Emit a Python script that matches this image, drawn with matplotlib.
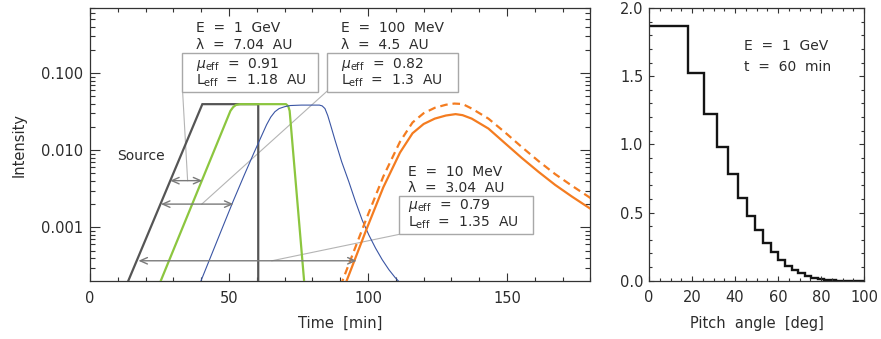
import matplotlib
matplotlib.use('Agg')
import matplotlib.pyplot as plt
from matplotlib.patches import Rectangle
from matplotlib.ticker import MultipleLocator, LogLocator, NullFormatter, FormatStrFormatter

plt.rcParams['font.family'] = ['DejaVu Sans']
plt.rcParams['font.size'] = 10.5
plt.rcParams['mathtext.fontset'] = 'dejavusans'

# ---------------- data: left panel (time profiles) ----------------
source_t = [13.0, 40.4, 60.5, 60.5]
source_I = [1.74e-4, 0.0396, 0.0396, 1.0e-4]

gev_t = [24.7, 50.5, 51.5, 52.5, 54.0, 70.5, 71.3, 71.8, 77.2]
gev_I = [1.74e-4, 0.0324, 0.0363, 0.0387, 0.0396, 0.0396, 0.0372, 0.0324, 1.66e-4]

mev100_t = [39.5, 43.2, 47.0, 51.5, 55.5, 59.0, 61.5, 63.5, 65.0, 66.5, 68.0, 70.0, 72.0, 76.0,
            82.5, 83.5, 84.5, 85.5, 86.5, 88.1, 90.5, 93.1, 95.5, 97.9, 100.3, 102.7, 105.1,
            107.5, 109.7, 111.5]
mev100_I = [1.86e-4, 3.98e-4, 8.71e-4, 2.19e-3, 4.79e-3, 9.33e-3, 0.0148, 0.0214, 0.0269,
            0.0316, 0.0347, 0.0367, 0.0380, 0.0385, 0.0385, 0.0376, 0.0347, 0.0282, 0.0214,
            0.0136, 7.11e-3, 3.89e-3, 2.15e-3, 1.24e-3, 7.94e-4, 5.37e-4, 3.80e-4, 2.82e-4,
            2.24e-4, 1.91e-4]

mev10_t = [91.6, 99.5, 105.5, 111.5, 116.0, 120.0, 124.0, 128.0, 131.5, 134.0, 137.3, 143.3,
           149.3, 155.3, 161.3, 167.3, 173.3, 180.0, 181.0]
mev10_I = [1.74e-4, 9.55e-4, 3.31e-3, 9.33e-3, 0.0166, 0.0219, 0.0257, 0.0282, 0.0294, 0.0285,
           0.0257, 0.0191, 0.0123, 7.94e-3, 5.25e-3, 3.55e-3, 2.51e-3, 1.74e-3, 1.70e-3]

mev10_dash_t = [90.1, 99.5, 105.5, 111.5, 116.0, 120.0, 124.0, 128.0, 131.0, 134.0, 137.3,
                143.3, 149.3, 155.3, 161.3, 167.3, 173.3, 180.0, 181.0]
mev10_dash_I = [1.74e-4, 1.32e-3, 4.57e-3, 0.0129, 0.0229, 0.0302, 0.0355, 0.0389, 0.0403,
                0.0398, 0.0347, 0.0257, 0.0170, 0.0110, 7.24e-3, 4.90e-3, 3.47e-3, 2.40e-3,
                2.35e-3]

left_xticks = [0, 50, 100, 150]
left_yticks = [1e-3, 1e-2, 1e-1]
left_yticklabels = ['0.001', '0.010', '0.100']

# ---------------- data: right panel (pitch-angle distribution) ----------------
pitch_edges = [0, 18.0, 25.7, 31.8, 36.7, 41.3, 45.5, 49.4, 53.1, 56.6, 60.0, 63.1, 66.4,
               69.5, 72.5, 75.4, 78.5, 81.4, 84.3, 87.1, 90.0, 100.0]
pitch_values = [1.87, 1.52, 1.22, 0.98, 0.78, 0.61, 0.475, 0.37, 0.28, 0.21, 0.155, 0.11,
                0.08, 0.055, 0.035, 0.02, 0.01, 0.005, 0.002, 0.0005, 0.0]
right_xticks = [0, 20, 40, 60, 80, 100]
right_yticks = [0.0, 0.5, 1.0, 1.5, 2.0]

# ---------------- styling ----------------
TXT = '#2c2c2c'
AX = '#333333'
C_SRC = '#555555'
C_GRN = '#8cc63f'
C_BLU = '#3a55a4'
C_ORA = '#f47c20'
C_ARR = '#7a7a7a'
C_CON = '#b4b4b4'
C_BOX = '#a8a8a8'
ANN_FS = 10

fig = plt.figure(figsize=(8.81, 3.39), dpi=100)
ax1 = fig.add_axes([0.1022, 0.172, 0.568, 0.8044])
ax2 = fig.add_axes([0.7367, 0.172, 0.2440, 0.8044])

for ax in (ax1, ax2):
    for sp in ax.spines.values():
        sp.set_color(AX)
        sp.set_linewidth(0.9)
    ax.tick_params(which='both', direction='in', top=True, right=True,
                   color=AX, labelcolor=TXT, width=0.8)

# ---------------- left panel ----------------
ax1.set_yscale('log')
ax1.plot(source_t, source_I, color=C_SRC, lw=1.6, solid_joinstyle='miter', zorder=3)
ax1.plot(gev_t, gev_I, color=C_GRN, lw=1.6, zorder=3)
ax1.plot(mev100_t, mev100_I, color=C_BLU, lw=0.8, zorder=3)
ax1.plot(mev10_t, mev10_I, color=C_ORA, lw=1.6, zorder=3)
ax1.plot(mev10_dash_t, mev10_dash_I, color=C_ORA, lw=1.6, dashes=(3.4, 2.2), zorder=3)

ax1.set_xlim(0, 180)
ax1.set_ylim(2.03e-4, 0.70)
ax1.set_xticks(left_xticks)
ax1.xaxis.set_minor_locator(MultipleLocator(10))
ax1.set_yticks(left_yticks)
ax1.set_yticklabels(left_yticklabels)
ax1.yaxis.set_minor_locator(LogLocator(base=10, subs=[2, 3, 4, 5, 6, 7, 8, 9], numticks=20))
ax1.yaxis.set_minor_formatter(NullFormatter())
ax1.tick_params(axis='x', which='major', length=5.5, pad=7.5)
ax1.tick_params(axis='x', which='minor', length=3)
ax1.tick_params(axis='y', which='major', length=7.2, pad=4.8)
ax1.tick_params(axis='y', which='minor', length=3.6)

ax1.set_xlabel('Time  [min]', color=TXT)
ax1.xaxis.label.set_va('baseline')
ax1.xaxis.set_label_coords(0.5, -0.1745)
ax1.set_ylabel('Intensity', color=TXT)
ax1.yaxis.label.set_va('center')
ax1.yaxis.set_label_coords(-0.1415, 0.497)

# arrows (delays)
arrow_kw = dict(arrowstyle='<->,head_length=0.5,head_width=0.22', color=C_ARR, lw=1.0,
                shrinkA=0, shrinkB=0)
ax1.annotate('', xy=(40.4, 4.03e-3), xytext=(28.8, 4.03e-3), arrowprops=arrow_kw, zorder=4)
ax1.annotate('', xy=(51.6, 2.0e-3), xytext=(25.5, 2.0e-3), arrowprops=arrow_kw, zorder=4)
ax1.annotate('', xy=(95.9, 3.68e-4), xytext=(17.4, 3.68e-4), arrowprops=arrow_kw, zorder=4)

# connector lines from boxes to arrows
ax1.plot([33.3, 35.1], [0.0577, 4.03e-3], color=C_CON, lw=0.8, zorder=2)
ax1.plot([85.1, 40.2], [0.0577, 2.0e-3], color=C_CON, lw=0.8, zorder=2)
ax1.plot([111.2, 65.4], [8.1e-4, 3.68e-4], color=C_CON, lw=0.8, zorder=2)

# boxes
for (x0, y0, w, h) in [(0.1833, 0.6931, 0.2729, 0.1408),
                       (0.4730, 0.6931, 0.2618, 0.1408),
                       (0.6175, 0.1702, 0.2684, 0.1415)]:
    ax1.add_patch(Rectangle((x0, y0), w, h, transform=ax1.transAxes, facecolor='white',
                            edgecolor=C_BOX, lw=1.0, zorder=5))

def block(x, ys, lines):
    for y, s in zip(ys, lines):
        ax1.text(x, y, s, transform=ax1.transAxes, ha='left', va='baseline',
                 color=TXT, fontsize=ANN_FS, zorder=6)

top_ys = [0.9131, 0.8497, 0.7808, 0.7176]
block(0.2112, top_ys, ['E  =  1  GeV', 'λ  =  7.04  AU',
                       r'$\mu_{\mathrm{eff}}$  =  0.91', r'L$_{\mathrm{eff}}$  =  1.18  AU'])
block(0.5010, top_ys, ['E  =  100  MeV', 'λ  =  4.5  AU',
                       r'$\mu_{\mathrm{eff}}$  =  0.82', r'L$_{\mathrm{eff}}$  =  1.3  AU'])
block(0.6361, [0.3857, 0.3263, 0.2618, 0.1996],
      ['E  =  10  MeV', 'λ  =  3.04  AU',
       r'$\mu_{\mathrm{eff}}$  =  0.79', r'L$_{\mathrm{eff}}$  =  1.35  AU'])
ax1.text(0.0546, 0.4437, 'Source', transform=ax1.transAxes, ha='left', va='baseline',
         color=TXT, fontsize=ANN_FS)

# ---------------- right panel ----------------
ax2.stairs(pitch_values, pitch_edges, baseline=None, color='#141414', lw=1.7)
ax2.set_xlim(0, 100)
ax2.set_ylim(0, 2.0)
ax2.set_xticks(right_xticks)
ax2.set_yticks(right_yticks)
ax2.yaxis.set_major_formatter(FormatStrFormatter('%.1f'))
ax2.xaxis.set_minor_locator(MultipleLocator(5))
ax2.yaxis.set_minor_locator(MultipleLocator(0.1))
ax2.tick_params(axis='x', which='major', length=3.6, pad=7.0)
ax2.tick_params(axis='x', which='minor', length=2.0)
ax2.tick_params(axis='y', which='major', length=3.4, pad=4.2)
ax2.tick_params(axis='y', which='minor', length=2.0)
ax2.set_xlabel('Pitch  angle  [deg]', color=TXT)
ax2.xaxis.label.set_va('baseline')
ax2.xaxis.set_label_coords(0.5, -0.1745)
ax2.text(0.442, 0.846, 'E  =  1  GeV', transform=ax2.transAxes, ha='left', va='baseline',
         color=TXT, fontsize=ANN_FS)
ax2.text(0.442, 0.769, 't  =  60  min', transform=ax2.transAxes, ha='left', va='baseline',
         color=TXT, fontsize=ANN_FS)

fig.savefig('out.png', dpi=100)
